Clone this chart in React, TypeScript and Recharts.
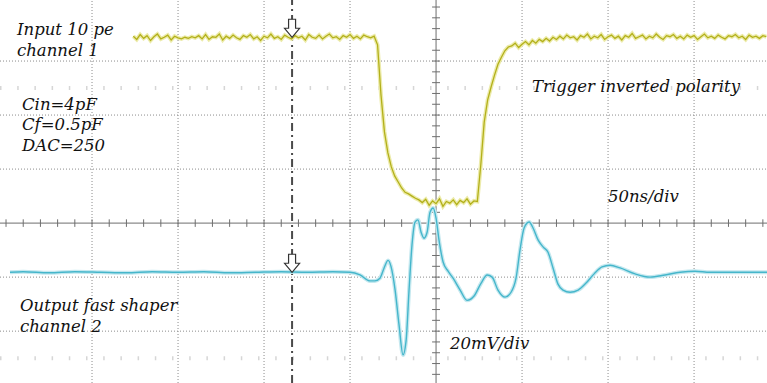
import { LineChart, Line, XAxis, YAxis, ReferenceLine, ReferenceDot } from 'recharts'

const W = 767
const H = 383

// x in ns (50 ns/div, 0 = screen centre), y in screen divisions from the centre line
const T_MIN = -253.5
const T_MAX = 192.4
const V_MIN = -2.96
const V_MAX = 4.13

const GRID_T = [-200, -150, -100, -50, 50, 100, 150]
const GRID_V = [-2, -1, 1, 2, 3]
const HALF_V = [-2.5, 2.5]
const TRIGGER_T = -83.7
const MINOR_T = Array.from({ length: 45 }, (_, i) => -250 + i * 10)
const MINOR_V = Array.from({ length: 35 }, (_, i) => Math.round((-2.8 + i * 0.2) * 10) / 10)

// channel 1 (input), sampled every 2 ns starting at -176 ns
const CH1_T0 = -176
const CH1_DT = 2
const CH1_V = [
  3.46, 3.40, 3.49, 3.42, 3.47, 3.38, 3.45, 3.50, 3.41, 3.44,
  3.48, 3.39, 3.46, 3.43, 3.41, 3.44, 3.42, 3.45, 3.43, 3.47,
  3.41, 3.49, 3.40, 3.45, 3.44, 3.50, 3.39, 3.46, 3.42, 3.48,
  3.43, 3.40, 3.47, 3.44, 3.49, 3.41, 3.45, 3.38, 3.46, 3.43,
  3.50, 3.42, 3.45, 3.40, 3.48, 3.44, 3.41, 3.47, 3.43, 3.46,
  3.39, 3.49, 3.44, 3.42, 3.48, 3.41, 3.46, 3.50, 3.43, 3.45,
  3.40, 3.47, 3.44, 3.49, 3.42, 3.46, 3.41, 3.48, 3.45, 3.43,
  3.46,
  3.30, 2.37, 1.69, 1.30, 1.04, 0.87, 0.76, 0.65, 0.57, 0.54, 0.50, 0.46, 0.43,
  0.38, 0.44, 0.33, 0.41, 0.36, 0.45, 0.31, 0.40, 0.37, 0.43, 0.34, 0.42, 0.38, 0.45, 0.35, 0.41,
  0.40,
  1.07, 1.87, 2.28, 2.52, 2.74, 2.94, 3.07, 3.19, 3.26,
  3.28, 3.33, 3.25, 3.31, 3.36, 3.30, 3.38, 3.33, 3.40, 3.36, 3.42, 3.37, 3.44, 3.40, 3.46, 3.41, 3.48, 3.43, 3.45, 3.39,
  3.47, 3.44, 3.50, 3.41, 3.46, 3.43, 3.49, 3.40, 3.45, 3.48, 3.42, 3.46, 3.39, 3.47, 3.44, 3.51, 3.42, 3.45, 3.48, 3.41,
  3.46, 3.43, 3.50, 3.44, 3.40, 3.47, 3.45, 3.49, 3.42, 3.46, 3.41, 3.48, 3.44, 3.47, 3.40, 3.45, 3.50, 3.43, 3.46, 3.42,
  3.48, 3.44, 3.41, 3.47, 3.45, 3.49, 3.43, 3.46, 3.40, 3.48, 3.44, 3.46, 3.42, 3.47, 3.45,
]

// channel 2 (fast shaper output)
const CH2_T = [
  -247.7, -240, -225, -210, -195, -180, -165, -150, -135, -120, -105, -90, -75, -60, -50,
  -44.2, -38.4, -35.5, -32.6, -30.2, -27.9, -26.2, -23.8, -21.5, -19.2, -17.4, -15.7, -14.0,
  -12.2, -10.5, -8.7, -7.0, -5.2, -3.5, -1.7, 0, 1.7, 4.1, 7.0, 9.9, 14.0, 18.0, 22.1, 26.2,
  29.7, 32.6, 36.0, 40.1, 43.6, 46.5, 48.8, 51.2, 54.1, 56.4, 59.3, 62.2, 65.1, 68.0, 70.9,
  73.8, 77.9, 82.6, 87.2, 91.9, 96.5, 101.2, 107.0, 115.7, 124.4, 133.1, 141.9, 150.6,
  159.3, 170.9, 182.6, 192.4,
]
const CH2_V = [
  -0.91, -0.90, -0.92, -0.90, -0.91, -0.92, -0.90, -0.91, -0.90, -0.92, -0.91, -0.90, -0.91, -0.90, -0.91,
  -0.96, -1.07, -1.07, -1.02, -0.83, -0.69, -0.80, -1.24, -1.89, -2.44, -2.17, -1.24, -0.41,
  0.02, 0.06, -0.17, -0.28, -0.17, 0.20, 0.28, 0.09, -0.31, -0.72, -0.89, -1.02, -1.24, -1.43, -1.35, -1.11,
  -0.96, -1.00, -1.24, -1.37, -1.28, -1.02, -0.50, -0.09, 0.02, -0.09, -0.31, -0.44, -0.54, -0.83, -1.13,
  -1.24, -1.28, -1.24, -1.11, -0.94, -0.81, -0.78, -0.83, -0.94, -1.00, -0.96, -0.91, -0.89,
  -0.91, -0.91, -0.91, -0.91,
]

const ch1Data = CH1_V.map((v, i) => ({ t: CH1_T0 + i * CH1_DT, v }))
const ch2Data = CH2_T.map((t, i) => ({ t, v: CH2_V[i] }))

const YELLOW = '#b3b01a'
const YELLOW_GLOW = '#ecebaa'
const CYAN = '#45b6cb'
const CYAN_GLOW = '#c4e8ef'
const GRID = '#8c8c8c'

const FONT = 'DejaVu Serif'
const BASELINE = 0.846

function Arrow(props: any) {
  const { cx, cy } = props
  const d = `M${cx} ${cy} L${cx - 7.5} ${cy - 9} L${cx - 3.5} ${cy - 9} L${cx - 3.5} ${cy - 18} L${cx + 3.5} ${cy - 18} L${cx + 3.5} ${cy - 9} L${cx + 7.5} ${cy - 9} Z`
  return <path d={d} fill="#fff" stroke="#333" strokeWidth={1.2} />
}

const LABELS = [
  { text: 'Input 10 pe', x: 17, y: 36, size: 16.5 },
  { text: 'channel 1', x: 17, y: 57, size: 16.5 },
  { text: 'Cin=4pF', x: 22, y: 111, size: 16.5 },
  { text: 'Cf=0.5pF', x: 22, y: 131, size: 16.5 },
  { text: 'DAC=250', x: 22, y: 152, size: 16.5 },
  { text: 'Trigger inverted polarity', x: 532, y: 93, size: 16.5 },
  { text: '50ns/div', x: 608, y: 203, size: 16.5 },
  { text: 'Output fast shaper', x: 20, y: 312, size: 16.5 },
  { text: 'channel 2', x: 20, y: 333, size: 16.5 },
  { text: '20mV/div', x: 450, y: 350, size: 16.5 },
]

export default function App() {
  return (
    <div style={{ position: 'absolute', left: 0, top: 0, width: W, height: H, background: '#fff', overflow: 'hidden' }}>
      <LineChart width={W} height={H} margin={{ top: 0, right: 0, bottom: 0, left: 0 }}>
        <XAxis type="number" dataKey="t" domain={[T_MIN, T_MAX]} allowDataOverflow hide />
        <YAxis type="number" domain={[V_MIN, V_MAX]} allowDataOverflow hide />
        {GRID_T.map((t) => (
          <ReferenceLine key={'gt' + t} x={t} stroke={GRID} strokeDasharray="1 2" />
        ))}
        {GRID_V.map((v) => (
          <ReferenceLine key={'gv' + v} y={v} stroke={GRID} strokeDasharray="1 2" />
        ))}
        {HALF_V.map((v) => (
          <ReferenceLine key={'hv' + v} y={v} stroke="#d6d6d6" strokeWidth={4} strokeDasharray="1.5 15.7" />
        ))}
        <ReferenceLine x={0} stroke="#6e6e6e" />
        <ReferenceLine y={0} stroke="#6e6e6e" />
        {MINOR_T.map((t) => (
          <ReferenceLine key={'mt' + t} segment={[{ x: t, y: -0.07 }, { x: t, y: 0.07 }]} stroke="#6e6e6e" />
        ))}
        {MINOR_V.map((v) => (
          <ReferenceLine key={'mv' + v} segment={[{ x: -2.3, y: v }, { x: 2.3, y: v }]} stroke="#6e6e6e" />
        ))}
        <ReferenceLine x={TRIGGER_T} stroke="#4a4a4a" strokeWidth={2} strokeDasharray="8 4 2 4" />
        <Line data={ch1Data} dataKey="v" type="linear" stroke={YELLOW_GLOW} strokeWidth={4} strokeLinecap="butt" dot={false} activeDot={false} isAnimationActive={false} />
        <Line data={ch2Data} dataKey="v" type="monotone" stroke={CYAN_GLOW} strokeWidth={4} strokeLinecap="butt" dot={false} activeDot={false} isAnimationActive={false} />
        <Line data={ch1Data} dataKey="v" type="linear" stroke={YELLOW} strokeWidth={1.3} dot={false} activeDot={false} isAnimationActive={false} />
        <Line data={ch2Data} dataKey="v" type="monotone" stroke={CYAN} strokeWidth={1.4} dot={false} activeDot={false} isAnimationActive={false} />
        <ReferenceDot x={TRIGGER_T} y={3.44} shape={(p: any) => <Arrow {...p} />} />
        <ReferenceDot x={TRIGGER_T} y={-0.91} shape={(p: any) => <Arrow {...p} />} />
      </LineChart>
      {LABELS.map((l) => (
        <div
          key={l.text}
          style={{
            position: 'absolute',
            left: l.x,
            top: l.y - l.size * BASELINE,
            fontFamily: `"${FONT}", serif`,
            fontStyle: 'italic',
            fontSize: l.size,
            lineHeight: 1,
            whiteSpace: 'nowrap',
            color: '#111',
            pointerEvents: 'none',
          }}
        >
          {l.text}
        </div>
      ))}
    </div>
  )
}
